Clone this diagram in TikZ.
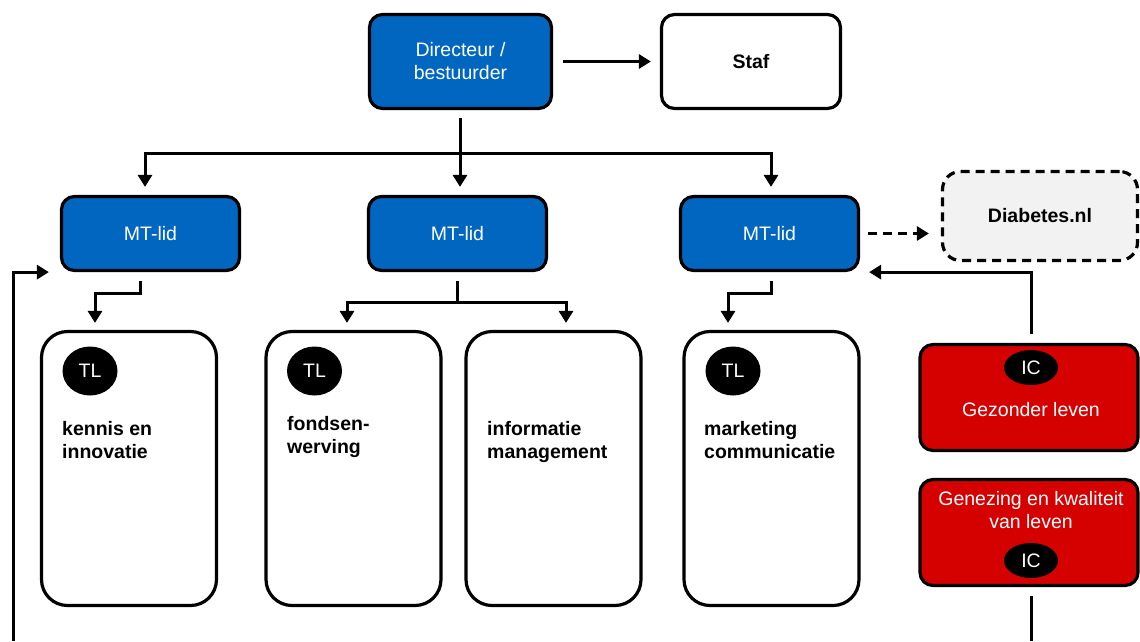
\documentclass[tikz,border=0pt]{standalone}
\usepackage{fontspec}
\setmainfont{Liberation Sans}
\usetikzlibrary{arrows.meta,shapes.geometric}
\definecolor{nblauw}{HTML}{0066C0}
\definecolor{nrood}{HTML}{D50000}
\definecolor{ngrijs}{HTML}{F2F2F2}

\begin{document}
\begin{tikzpicture}[x=1pt,y=-1pt,
    font=\fontsize{19.5}{23}\selectfont,
    blok/.style={draw=black, line width=3.2pt, rounded corners=13pt, inner sep=0pt, align=center},
    blauwblok/.style={blok, fill=nblauw, text=white},
    witblok/.style={blok, fill=white},
    teamblok/.style={blok, fill=white, rounded corners=26pt, minimum width=175pt, minimum height=274pt},
    icblok/.style={blok, fill=nrood, minimum width=218pt, minimum height=106pt},
    bol/.style={ellipse, fill=black, text=white, inner sep=0pt},
    teamtxt/.style={anchor=north west, inner sep=0pt, align=left, font=\fontsize{19.5}{23}\selectfont\bfseries},
    wittxt/.style={text=white, inner sep=0pt, align=center},
    lijn/.style={line width=3pt},
    pijl/.style={lijn, -{Triangle[length=12pt,width=14pt]}}]
    \useasboundingbox (0,0) rectangle (1140,641);

    %Directie en staf
    \node[blauwblok, minimum width=182pt, minimum height=94pt] (dir) at (460.5,61.5) {Directeur /\\bestuurder};
    \node[witblok, minimum width=179pt, minimum height=94pt, font=\fontsize{19.5}{23}\selectfont\bfseries] (staf) at (751,61.5) {Staf};
    \draw[pijl, shorten <=10pt, shorten >=9pt] (dir) -- (staf);

    %MT-leden
    \node[blauwblok, minimum width=178pt, minimum height=74pt] (mt1) at (150.5,233.5) {MT-lid};
    \node[blauwblok, minimum width=178pt, minimum height=74pt] (mt2) at (457.5,233.5) {MT-lid};
    \node[blauwblok, minimum width=178pt, minimum height=74pt] (mt3) at (769.5,233.5) {MT-lid};
    \coordinate (splits) at (460,153);
    \draw[lijn, shorten <=8pt] (splits |- dir.south) -- (splits);
    \draw[pijl, shorten >=8pt] (splits) -| ([xshift=-5.5pt]mt1.north);
    \draw[pijl, shorten >=8pt] (splits) -- (splits |- mt2.north);
    \draw[pijl, shorten >=8pt] (splits) -| ([xshift=1.5pt]mt3.north);

    %Diabetes.nl
    \node[blok, dash pattern=on 9pt off 6pt, fill=ngrijs, rounded corners=18pt, minimum width=195pt, minimum height=89pt, font=\fontsize{19.5}{23}\selectfont\bfseries] (diab) at (1040,216) {Diabetes.nl};
    \draw[pijl, dash pattern=on 9pt off 6pt, shorten <=8pt, shorten >=12pt] (mt3.east) -- (mt3.east -| diab.west);

    %teams
    \node[teamblok] (team1) at (129,468.5) {};
    \node[teamblok] (team2) at (353.5,468.5) {};
    \node[teamblok] (team3) at (553.5,468.5) {};
    \node[teamblok] (team4) at (771.5,468.5) {};
    \node[bol, minimum width=55pt, minimum height=49pt] (tl1) at (90,371) {TL};
    \node[bol, minimum width=55pt, minimum height=49pt] (tl2) at (314.5,371) {TL};
    \node[bol, minimum width=55pt, minimum height=49pt] (tl4) at (733,371) {TL};
    \node[teamtxt] (kennis) at (62,421) {kennis en\\innovatie};
    \node[teamtxt] (fondsen) at (287,416) {fondsen-\\werving};
    \node[teamtxt] (info) at (487,421) {informatie\\management};
    \node[teamtxt] (marketing) at (704,421) {marketing\\communicatie};

    \draw[pijl, shorten <=9pt, shorten >=7pt] ([xshift=-10.5pt]mt1.south) -- ++(0,21) -| ([xshift=-34pt]team1.north);
    \coordinate (vork) at (457,302);
    \draw[lijn, shorten <=9pt] (vork |- mt2.south) -- (vork);
    \draw[pijl, shorten >=7pt] (vork) -| ([xshift=-6.5pt]team2.north);
    \draw[pijl, shorten >=7pt] (vork) -| ([xshift=12.5pt]team3.north);
    \draw[pijl, shorten <=9pt, shorten >=7pt] ([xshift=1.5pt]mt3.south) -- ++(0,21) -| ([xshift=-43.5pt]team4.north);

    %IC's
    \node[icblok] (ic1) at (1029,397.5) {};
    \node[bol, minimum width=54pt, minimum height=35pt] (ic1bol) at (1031,367.5) {IC};
    \node[wittxt] (ic1txt) at (1031,410) {Gezonder leven};
    \node[icblok] (ic2) at (1029,532.5) {};
    \node[wittxt] (ic2txt) at (1031,510.5) {Genezing en kwaliteit\\van leven};
    \node[bol, minimum width=54pt, minimum height=35pt] (ic2bol) at (1031,560.5) {IC};

    %terugkoppeling
    \coordinate (lusin) at (13,641);
    \draw[pijl, shorten >=11pt] (lusin) |- (mt1.south west);
    \draw[pijl, shorten <=9pt, shorten >=9pt] ([xshift=2pt]ic1.north) |- (mt3.south east);
    \coordinate (icuit) at (1031,641);
    \draw[lijn, shorten <=9pt] ([xshift=2pt]ic2.south) -- (icuit);
\end{tikzpicture}
\end{document}
